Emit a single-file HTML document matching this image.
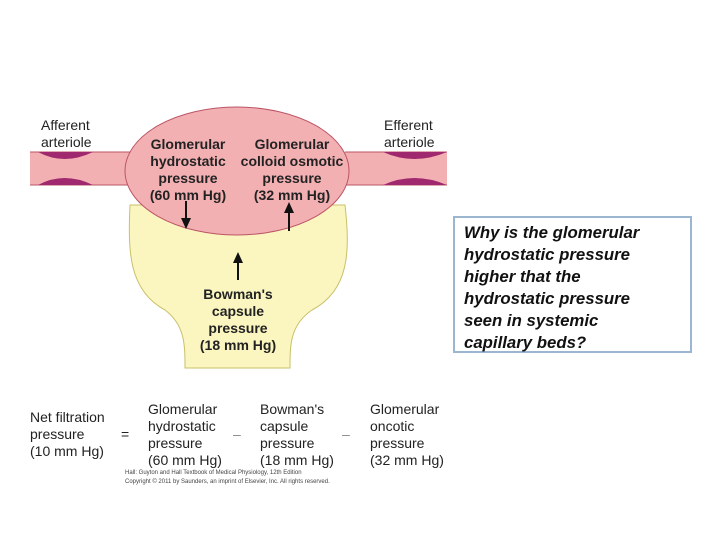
<!DOCTYPE html>
<html><head><style>
body{margin:0;width:720px;height:540px;background:#fff;position:relative;overflow:hidden;font-family:"Liberation Sans",sans-serif}
.t{position:absolute;font-size:14px;line-height:17px;color:#222}
.b{font-weight:bold;text-align:center}
.box{position:absolute;left:453px;top:216px;width:239px;height:137px;border:2px solid #9db6cf;padding:4px 0 0 9px;box-sizing:border-box;font-style:italic;font-weight:bold;font-size:16.8px;line-height:22px;color:#111;white-space:nowrap}
</style></head><body>
<svg width="720" height="540" style="position:absolute;left:0;top:0">
<path d="M130 205 C128 250,128 290,165 310 C185 325,185 345,185 368 L290 368 C290 345,290 325,312 310 C350 290,350 250,345 205 Z" fill="#fbf6c0" stroke="#c9c06a" stroke-width="1"/>
<rect x="30" y="152" width="417" height="33" fill="#f3b0b3"/>
<line x1="30" y1="152" x2="130" y2="152" stroke="#b56" stroke-width="1"/>
<line x1="30" y1="185" x2="130" y2="185" stroke="#b56" stroke-width="1"/>
<line x1="345" y1="152" x2="447" y2="152" stroke="#b56" stroke-width="1"/>
<line x1="345" y1="185" x2="447" y2="185" stroke="#b56" stroke-width="1"/>
<ellipse cx="237" cy="171" rx="112" ry="64" fill="#f3b0b3" stroke="#b56" stroke-width="1"/>
<path d="M38 152 Q64 166 93 152Z M38 185 Q64 171 93 185Z" fill="#a0286e"/>
<path d="M383 152 Q414 166 447 152Z M383 185 Q414 171 447 185Z" fill="#a0286e"/>
<g stroke="#111" stroke-width="2" fill="#111">
<line x1="186" y1="201" x2="186" y2="222"/><polygon points="181,218 191,218 186,229" stroke="none"/>
<line x1="289" y1="212" x2="289" y2="231"/><polygon points="284,213 294,213 289,202" stroke="none"/>
<line x1="238" y1="262" x2="238" y2="280"/><polygon points="233,263 243,263 238,252" stroke="none"/>
</g>
</svg>
<div class="t" style="left:41px;top:117px">Afferent<br>arteriole</div>
<div class="t" style="left:384px;top:117px">Efferent<br>arteriole</div>
<div class="t b" style="left:140px;top:136px;width:96px">Glomerular<br>hydrostatic<br>pressure<br>(60 mm Hg)</div>
<div class="t b" style="left:236px;top:136px;width:112px">Glomerular<br>colloid osmotic<br>pressure<br>(32 mm Hg)</div>
<div class="t b" style="left:180px;top:286px;width:116px">Bowman's<br>capsule<br>pressure<br>(18 mm Hg)</div>
<div class="t" style="left:30px;top:409px">Net filtration<br>pressure<br>(10 mm Hg)</div>
<div class="t" style="left:121px;top:426px">=</div>
<div class="t" style="left:148px;top:401px">Glomerular<br>hydrostatic<br>pressure<br>(60 mm Hg)</div>
<div class="t" style="left:233px;top:426px;color:#888">–</div>
<div class="t" style="left:260px;top:401px">Bowman's<br>capsule<br>pressure<br>(18 mm Hg)</div>
<div class="t" style="left:342px;top:426px;color:#888">–</div>
<div class="t" style="left:370px;top:401px">Glomerular<br>oncotic<br>pressure<br>(32 mm Hg)</div>
<div class="t" style="left:125px;top:469px;font-size:6px;line-height:9px;color:#444">Hall: Guyton and Hall Textbook of Medical Physiology, 12th Edition<br>Copyright © 2011 by Saunders, an imprint of Elsevier, Inc. All rights reserved.</div>
<div class="box">Why is the glomerular<br>hydrostatic pressure<br>higher that the<br>hydrostatic pressure<br>seen in systemic<br>capillary beds?</div>
</body></html>
